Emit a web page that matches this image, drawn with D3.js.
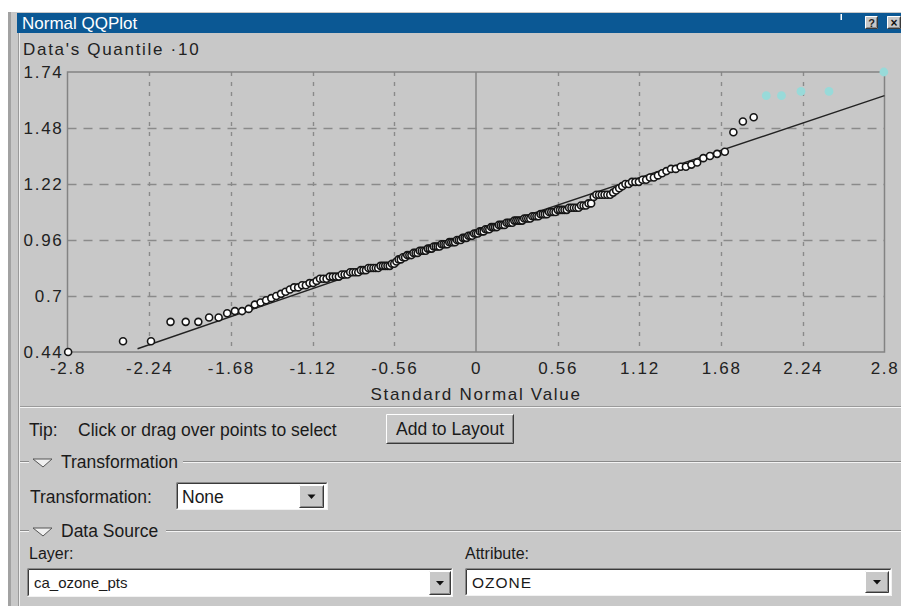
<!DOCTYPE html>
<html>
<head>
<meta charset="utf-8">
<script src="https://cdn.jsdelivr.net/npm/d3@7"></script>
<style>
  html, body { margin: 0; padding: 0; background: #ffffff; }
  svg { display: block; }
  text { font-family: "Liberation Sans", Arial, sans-serif; }
</style>
</head>
<body>
<svg id="qq" width="901" height="606"></svg>
<script>
// Sorted ozone values (data quantiles, units of 10^-1), one per sample point
const ozoneQuantiles = [
  0.44, 0.49, 0.49, 0.58, 0.58, 0.58, 0.60, 0.60, 0.62, 0.63, 0.63, 0.64, 0.66, 0.67, 0.68, 0.69, 0.70, 0.71, 0.72, 0.73,
  0.74, 0.74, 0.75, 0.75, 0.76, 0.76, 0.77, 0.78, 0.78, 0.78, 0.79, 0.79, 0.79, 0.79, 0.80, 0.80, 0.80, 0.81, 0.81, 0.81,
  0.81, 0.82, 0.82, 0.82, 0.83, 0.83, 0.83, 0.83, 0.83, 0.84, 0.84, 0.84, 0.84, 0.84, 0.85, 0.85, 0.86, 0.87, 0.87, 0.88,
  0.88, 0.89, 0.89, 0.89, 0.90, 0.90, 0.90, 0.91, 0.91, 0.91, 0.91, 0.92, 0.92, 0.92, 0.93, 0.93, 0.93, 0.93, 0.94, 0.94,
  0.94, 0.94, 0.95, 0.95, 0.95, 0.95, 0.96, 0.96, 0.96, 0.97, 0.97, 0.97, 0.98, 0.98, 0.98, 0.99, 0.99, 0.99, 1.00, 1.00,
  1.00, 1.01, 1.01, 1.01, 1.02, 1.02, 1.02, 1.02, 1.03, 1.03, 1.03, 1.03, 1.04, 1.04, 1.04, 1.04, 1.05, 1.05, 1.05, 1.05,
  1.05, 1.06, 1.06, 1.06, 1.06, 1.07, 1.07, 1.07, 1.07, 1.08, 1.08, 1.08, 1.08, 1.09, 1.09, 1.09, 1.09, 1.10, 1.10, 1.10,
  1.10, 1.10, 1.11, 1.11, 1.11, 1.11, 1.11, 1.12, 1.12, 1.12, 1.13, 1.13, 1.16, 1.17, 1.17, 1.17, 1.17, 1.17, 1.17, 1.18,
  1.19, 1.20, 1.21, 1.22, 1.22, 1.23, 1.23, 1.23, 1.24, 1.24, 1.25, 1.25, 1.26, 1.27, 1.28, 1.29, 1.29, 1.30, 1.30, 1.31,
  1.32, 1.34, 1.35, 1.36, 1.37, 1.46, 1.51, 1.53, 1.63, 1.63, 1.65, 1.65, 1.74
];
// Ranks (1-based) of the currently selected points
const selectedRanks = [189, 190, 191, 192, 193];

// Reference line through the distribution: [standard normal value, data quantile]
const referenceLine = [[-2.32, 0.455], [0, 0.995], [2.8, 1.63]];

const xTicks = [-2.8, -2.24, -1.68, -1.12, -0.56, 0, 0.56, 1.12, 1.68, 2.24, 2.8];
const xTickLabels = ["-2.8", "-2.24", "-1.68", "-1.12", "-0.56", "0", "0.56", "1.12", "1.68", "2.24", "2.8"];
const yTicks = [0.44, 0.7, 0.96, 1.22, 1.48, 1.74];
const yTickLabels = ["0.44", "0.7", "0.96", "1.22", "1.48", "1.74"];

// Inverse of the standard normal CDF (Acklam's rational approximation)
function normalQuantile(p) {
  const a = [-39.69683028665376, 220.9460984245205, -275.9285104469687, 138.3577518672690, -30.66479806614716, 2.506628277459239];
  const b = [-54.47609879822406, 161.5858368580409, -155.6989798598866, 66.80131188771972, -13.28068155288572];
  const c = [-0.007784894002430293, -0.3223964580411365, -2.400758277161838, -2.549732539343734, 4.374664141464968, 2.938163982698783];
  const d = [0.007784695709041462, 0.3224671290700398, 2.445134137142996, 3.754408661907416];
  const pl = 0.02425, ph = 1 - pl;
  let q, r;
  if (p < pl) {
    q = Math.sqrt(-2 * Math.log(p));
    return (((((c[0]*q+c[1])*q+c[2])*q+c[3])*q+c[4])*q+c[5]) / ((((d[0]*q+d[1])*q+d[2])*q+d[3])*q+1);
  }
  if (p <= ph) {
    q = p - 0.5; r = q * q;
    return (((((a[0]*r+a[1])*r+a[2])*r+a[3])*r+a[4])*r+a[5])*q / (((((b[0]*r+b[1])*r+b[2])*r+b[3])*r+b[4])*r+1);
  }
  q = Math.sqrt(-2 * Math.log(1 - p));
  return -(((((c[0]*q+c[1])*q+c[2])*q+c[3])*q+c[4])*q+c[5]) / ((((d[0]*q+d[1])*q+d[2])*q+d[3])*q+1);
}

const n = ozoneQuantiles.length;
const points = ozoneQuantiles.map((v, i) => ({
  rank: i + 1,
  z: normalQuantile((i + 0.5) / n),
  v: v,
  selected: selectedRanks.includes(i + 1)
}));

const svg = d3.select("#qq");
const W = 901, H = 606;
const panelFill = "#c8c8c8";

// ---------- window chrome ----------
svg.append("rect").attr("width", W).attr("height", H).attr("fill", "#ffffff");
svg.append("rect").attr("x", 8).attr("y", 12).attr("width", W - 8).attr("height", H - 12).attr("fill", panelFill);
svg.append("rect").attr("x", 8).attr("y", 12).attr("width", 3).attr("height", H - 12).attr("fill", "#a2a2a2");
svg.append("line").attr("x1", 18.5).attr("x2", 18.5).attr("y1", 33).attr("y2", H).attr("stroke", "#9a9a9a");
svg.append("line").attr("x1", 19.5).attr("x2", 19.5).attr("y1", 33).attr("y2", H).attr("stroke", "#efefef");

// title bar
svg.append("rect").attr("x", 17).attr("y", 13).attr("width", W - 17).attr("height", 20).attr("fill", "#0b5894");
svg.append("text").attr("x", 22).attr("y", 29).attr("fill", "#ffffff").attr("font-size", 17)
  .text("Normal QQPlot");
svg.append("rect").attr("x", 840.5).attr("y", 14).attr("width", 1.5).attr("height", 6).attr("fill", "#ffffff");

function raised(g, x, y, w, h) {
  g.append("rect").attr("x", x).attr("y", y).attr("width", w).attr("height", h).attr("fill", panelFill);
  g.append("path").attr("d", `M${x + 0.5},${y + h - 0.5}V${y + 0.5}H${x + w - 0.5}`).attr("stroke", "#ffffff").attr("fill", "none");
  g.append("path").attr("d", `M${x + 0.5},${y + h - 0.5}H${x + w - 0.5}V${y + 0.5}`).attr("stroke", "#3a3a3a").attr("fill", "none");
  g.append("path").attr("d", `M${x + 1.5},${y + h - 1.5}H${x + w - 1.5}V${y + 1.5}`).attr("stroke", "#8a8a8a").attr("fill", "none");
}
function sunken(g, x, y, w, h) {
  g.append("rect").attr("x", x).attr("y", y).attr("width", w).attr("height", h).attr("fill", "#ffffff");
  g.append("path").attr("d", `M${x + 0.5},${y + h - 0.5}V${y + 0.5}H${x + w - 0.5}`).attr("stroke", "#8a8a8a").attr("fill", "none");
  g.append("path").attr("d", `M${x + 1.5},${y + h - 1.5}V${y + 1.5}H${x + w - 1.5}`).attr("stroke", "#3a3a3a").attr("fill", "none");
  g.append("path").attr("d", `M${x + 0.5},${y + h - 0.5}H${x + w - 0.5}V${y + 0.5}`).attr("stroke", "#f2f2f2").attr("fill", "none");
}
function dropButton(g, x, y, w, h) {
  raised(g, x, y, w, h);
  const cx = x + w / 2, cy = y + h / 2;
  g.append("path").attr("d", `M${cx - 4},${cy - 2}H${cx + 4}L${cx},${cy + 2.5}Z`).attr("fill", "#111111");
}

const chrome = svg.append("g");
raised(chrome, 865, 16, 13, 13);
chrome.append("text").attr("x", 871.5).attr("y", 27).attr("text-anchor", "middle").attr("font-size", 11).attr("font-weight", "bold").attr("fill", "#222").text("?");
raised(chrome, 887, 16, 14, 13);
chrome.append("text").attr("x", 894).attr("y", 27).attr("text-anchor", "middle").attr("font-size", 12).attr("font-weight", "bold").attr("fill", "#111").text("×");

// ---------- chart ----------
const x = d3.scaleLinear().domain([-2.8, 2.8]).range([67.5, 884.5]);
const y = d3.scaleLinear().domain([0.44, 1.74]).range([352, 72]);

const chart = svg.append("g");
const chartFont = { size: 17, spacing: "1.7px", fill: "#222222" };

chart.append("text").attr("x", 23).attr("y", 55).attr("font-size", chartFont.size)
  .attr("letter-spacing", chartFont.spacing).attr("fill", chartFont.fill)
  .text("Data's Quantile \u00B710");

// grid
chart.append("g").selectAll("line")
  .data(xTicks.filter(t => t !== 0 && t !== -2.8 && t !== 2.8))
  .join("line")
  .attr("x1", d => Math.round(x(d)) + 0.5).attr("x2", d => Math.round(x(d)) + 0.5)
  .attr("y1", y(1.74)).attr("y2", y(0.44))
  .attr("stroke", "#8a8a8a").attr("stroke-width", 1.4).attr("stroke-dasharray", "4,6");
chart.append("g").selectAll("line")
  .data(yTicks.filter(t => t !== 0.44 && t !== 1.74))
  .join("line")
  .attr("x1", x(-2.8)).attr("x2", x(2.8))
  .attr("y1", d => Math.round(y(d)) + 0.5).attr("y2", d => Math.round(y(d)) + 0.5)
  .attr("stroke", "#8a8a8a").attr("stroke-width", 1.4).attr("stroke-dasharray", "9,7");

// zero line and frame
chart.append("line").attr("x1", x(0)).attr("x2", x(0)).attr("y1", y(1.74)).attr("y2", y(0.44))
  .attr("stroke", "#868686").attr("stroke-width", 1.5);
chart.append("rect").attr("x", x(-2.8)).attr("y", y(1.74))
  .attr("width", x(2.8) - x(-2.8)).attr("height", y(0.44) - y(1.74))
  .attr("fill", "none").attr("stroke", "#838383").attr("stroke-width", 1.5);

// axes (labels only)
const yAxis = d3.axisLeft(y).tickValues(yTicks).tickFormat((d, i) => yTickLabels[i]).tickSize(0).tickPadding(4);
const gy = chart.append("g").attr("transform", `translate(${x(-2.8)},0)`).call(yAxis);
const xAxis = d3.axisBottom(x).tickValues(xTicks).tickFormat((d, i) => xTickLabels[i]).tickSize(0).tickPadding(10);
const gx = chart.append("g").attr("transform", `translate(0,${y(0.44)})`).call(xAxis);
[gx, gy].forEach(g => {
  g.select(".domain").remove();
  g.selectAll("text").attr("font-family", "'Liberation Sans', Arial, sans-serif")
    .attr("font-size", chartFont.size).attr("letter-spacing", chartFont.spacing).attr("fill", chartFont.fill);
});
gy.selectAll("text").attr("dy", "0.33em");

chart.append("text").attr("x", x(0)).attr("y", 400).attr("text-anchor", "middle")
  .attr("font-size", chartFont.size).attr("letter-spacing", chartFont.spacing).attr("fill", chartFont.fill)
  .text("Standard Normal Value");

// reference line
chart.append("path").datum(referenceLine)
  .attr("d", d3.line().x(d => x(d[0])).y(d => y(d[1])))
  .attr("fill", "none").attr("stroke", "#222222").attr("stroke-width", 1.4);

// points
chart.append("g").selectAll("circle")
  .data(points)
  .join("circle")
  .attr("cx", d => x(d.z)).attr("cy", d => y(d.v))
  .attr("r", d => d.selected ? 4.4 : 3.5)
  .attr("fill", d => d.selected ? "#98dad9" : "#ffffff")
  .attr("stroke", d => d.selected ? "none" : "#151515")
  .attr("stroke-width", 1.6);

// ---------- control panel ----------
const ui = svg.append("g").attr("font-size", 17.5).attr("fill", "#1a1a1a");
ui.append("line").attr("x1", 20).attr("x2", W).attr("y1", 406.5).attr("y2", 406.5).attr("stroke", "#9a9a9a");
ui.append("line").attr("x1", 20).attr("x2", W).attr("y1", 407.5).attr("y2", 407.5).attr("stroke", "#f4f4f4");

ui.append("text").attr("x", 29).attr("y", 436).text("Tip:");
ui.append("text").attr("x", 78).attr("y", 436).text("Click or drag over points to select");
raised(ui, 386, 414, 128, 30);
ui.append("text").attr("x", 450).attr("y", 435).attr("text-anchor", "middle").text("Add to Layout");

function groupHeader(yy, label, textEnd) {
  ui.append("line").attr("x1", 20).attr("x2", 29).attr("y1", yy - 0.5).attr("y2", yy - 0.5).attr("stroke", "#8a8a8a");
  ui.append("line").attr("x1", 20).attr("x2", 29).attr("y1", yy + 0.5).attr("y2", yy + 0.5).attr("stroke", "#f4f4f4");
  ui.append("line").attr("x1", textEnd).attr("x2", W).attr("y1", yy - 0.5).attr("y2", yy - 0.5).attr("stroke", "#8a8a8a");
  ui.append("line").attr("x1", textEnd).attr("x2", W).attr("y1", yy + 0.5).attr("y2", yy + 0.5).attr("stroke", "#f4f4f4");
  ui.append("path").attr("d", `M33,${yy - 3}H52L43,${yy + 5}Z`).attr("fill", "#f0f0f0").attr("stroke", "#555").attr("stroke-width", 1);
  ui.append("text").attr("x", 61).attr("y", yy + 6).text(label);
}
groupHeader(462, "Transformation", 183);
ui.append("text").attr("x", 30).attr("y", 503).text("Transformation:");
sunken(ui, 176, 482, 152, 28);
dropButton(ui, 299, 485, 25, 23);
ui.append("text").attr("x", 182).attr("y", 503).text("None");

groupHeader(531, "Data Source", 166);
ui.append("text").attr("x", 29).attr("y", 559).attr("font-size", 16).text("Layer:");
ui.append("text").attr("x", 465).attr("y", 559).attr("font-size", 16).text("Attribute:");
sunken(ui, 27, 568, 426, 29);
dropButton(ui, 429, 571, 22, 24);
ui.append("text").attr("x", 34).attr("y", 588).attr("font-size", 15).text("ca_ozone_pts");
sunken(ui, 465, 568, 427, 28);
dropButton(ui, 865, 571, 24, 22);
ui.append("text").attr("x", 472).attr("y", 588).attr("font-size", 15.5).attr("letter-spacing", "1px").text("OZONE");
</script>
</body>
</html>
